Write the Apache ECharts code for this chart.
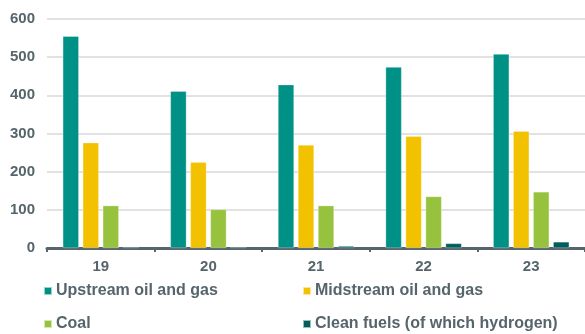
<!DOCTYPE html>
<html><head><meta charset="utf-8">
<script src="https://cdn.jsdelivr.net/npm/echarts@6/dist/echarts.min.js"></script>
<style>html,body{margin:0;padding:0;background:#fff}#c{width:585px;height:334px}</style>
</head><body><div id="c"></div>
<script>
var categories = ['19', '20', '21', '22', '23'];
var upstream = [555, 411, 428, 474, 508];
var midstream = [276, 225, 270, 293, 306];
var coal = [111, 101, 111, 135, 147];
var cleanFuels = [3, 3, 5, 12, 16];
var yTicks = [0, 100, 200, 300, 400, 500, 600];
var seriesNames = ['Upstream oil and gas', 'Midstream oil and gas', 'Coal', 'Clean fuels (of which hydrogen)'];

var textColor = '#56646c';
var font = 'Liberation Sans, Arial, sans-serif';
var chart = echarts.init(document.getElementById('c'));
function bar(name, data, color) {
  return {name: name, type: 'bar', data: data, barWidth: 16, barGap: '25%',
    itemStyle: {color: color, borderColor: 'rgba(255,255,255,0.6)', borderWidth: 0.5}};
}
function leg(name, left, top) {
  return {data: [name], left: left, top: top, padding: 0, itemWidth: 8, itemHeight: 8, icon: 'rect',
    textStyle: {color: textColor, fontSize: 16, fontWeight: 'bold', fontFamily: font, padding: [0,0,0,-1]}};
}
chart.setOption({
  animation: false,
  grid: {left: 47, right: 0, top: 19, bottom: 86},
  legend: [
    leg(seriesNames[0], 43, 283),
    leg(seriesNames[1], 302, 283),
    leg(seriesNames[2], 43, 316),
    leg(seriesNames[3], 302, 316)
  ],
  xAxis: {type: 'category', data: categories,
    axisLine: {lineStyle: {color: '#56646c', width: 3}},
    axisTick: {show: true, length: 4, lineStyle: {color: '#56646c', width: 2}},
    axisLabel: {color: textColor, fontSize: 15, fontWeight: 'bold', fontFamily: font, margin: 11}},
  yAxis: {type: 'value', min: yTicks[0], max: yTicks[yTicks.length-1], interval: 100,
    axisLine: {show: false}, axisTick: {show: false},
    splitLine: {lineStyle: {color: '#d9d9d9', width: 1.5}},
    axisLabel: {color: textColor, fontSize: 15, fontWeight: 'bold', fontFamily: font, margin: 12}},
  series: [
    bar(seriesNames[0], upstream, '#009186'),
    bar(seriesNames[1], midstream, '#f2c200'),
    bar(seriesNames[2], coal, '#97c23d'),
    bar(seriesNames[3], cleanFuels, '#005f5c')
  ]
});
</script></body></html>
